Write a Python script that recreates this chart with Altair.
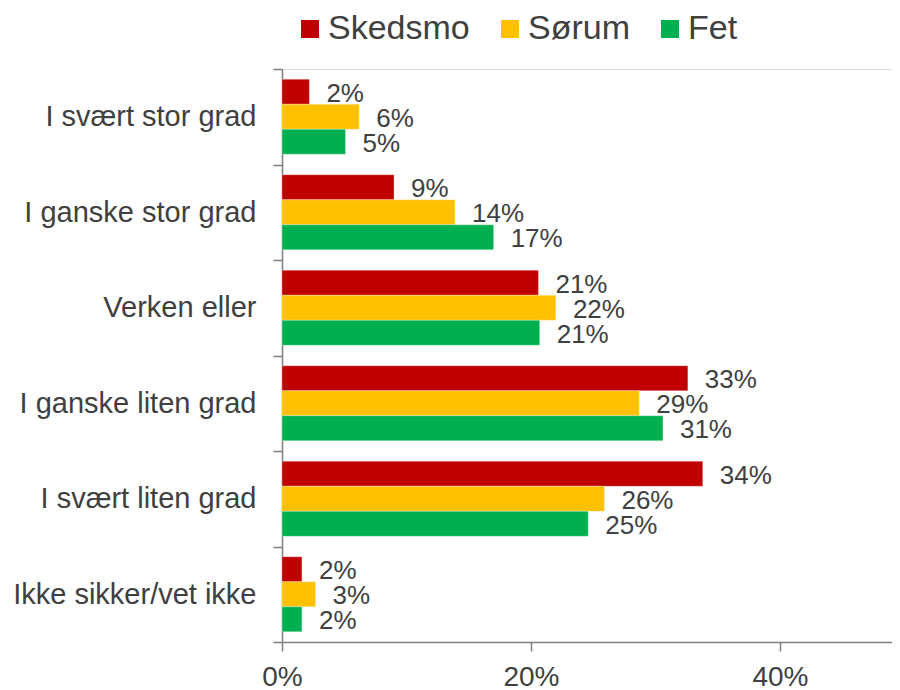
import altair as alt
import pandas as pd

categories = ["I svært stor grad", "I ganske stor grad", "Verken eller",
              "I ganske liten grad", "I svært liten grad", "Ikke sikker/vet ikke"]
series = ["Skedsmo", "Sørum", "Fet"]
skedsmo = [0.022, 0.090, 0.206, 0.326, 0.338, 0.016]
sorum = [0.062, 0.139, 0.220, 0.287, 0.259, 0.027]
fet = [0.051, 0.170, 0.207, 0.306, 0.246, 0.016]
colors = ["#C00000", "#FFC000", "#00B050"]
x_ticks = [0, 0.2, 0.4]

rows = []
for name, vals in zip(series, [skedsmo, sorum, fet]):
    for c, v in zip(categories, vals):
        rows.append({"cat": c, "series": name, "value": v})
df = pd.DataFrame(rows)

FONT = "Liberation Sans"
TXT = "#404040"
AX = "#7f7f7f"

y = alt.Y("cat:N", sort=categories, title=None,
          scale=alt.Scale(paddingInner=0, paddingOuter=0),
          axis=alt.Axis(labelFontSize=29, labelFont=FONT, labelColor=TXT,
                        tickSize=9, tickColor=AX, domainColor=AX, tickBand="extent",
                        labelPadding=17, labelLimit=400, domainWidth=1.5, tickWidth=1.5))
yoff = alt.YOffset("series:N", sort=series,
                   scale=alt.Scale(paddingOuter=0.41, paddingInner=0))
x = alt.X("value:Q", title=None,
          scale=alt.Scale(domain=[0, 0.49], nice=False, zero=True),
          axis=alt.Axis(values=x_ticks, format=".0%", labelFontSize=28, labelFont=FONT,
                        labelColor=TXT, tickSize=9, tickColor=AX, domainColor=AX,
                        grid=False, labelPadding=12, labelFlush=False,
                        domainWidth=1.5, tickWidth=1.5))

bars = alt.Chart(df).mark_bar(size=25, stroke="#ffffff", strokeWidth=0.6, strokeOpacity=0.5).encode(
    y=y, yOffset=yoff, x=x,
    color=alt.Color("series:N", sort=series,
                    scale=alt.Scale(domain=series, range=colors),
                    legend=alt.Legend(title=None, orient="none", legendX=11, legendY=-57,
                                      direction="horizontal", symbolType="square",
                                      symbolSize=324, symbolStrokeWidth=0,
                                      labelFontSize=34, labelFont=FONT, labelColor=TXT,
                                      labelOffset=1, columnPadding=23))
)

labels = alt.Chart(df).mark_text(align="left", baseline="middle", dx=17, dy=2,
                                 fontSize=26, font=FONT, color=TXT).encode(
    y=alt.Y("cat:N", sort=categories), yOffset=alt.YOffset("series:N", sort=series),
    x="value:Q",
    text=alt.Text("value:Q", format=".0%")
)

chart = (bars + labels).properties(
    width=610, height=573,
    autosize=alt.AutoSizeParams(type="none"),
    padding={"left": 274, "top": 61, "right": 0, "bottom": 48},
).configure_view(stroke=None).configure(background="white")

chart.save("out.html", embed_options={"renderer": "svg", "actions": False})
